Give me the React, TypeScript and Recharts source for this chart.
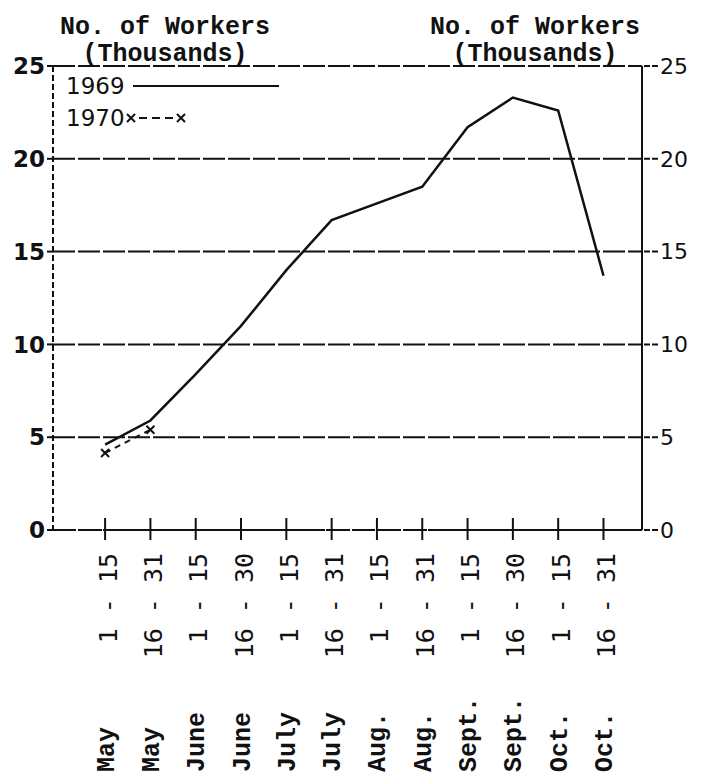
import { CartesianGrid, Legend, Line, LineChart, XAxis, YAxis } from 'recharts'

const months = ['May', 'May', 'June', 'June', 'July', 'July', 'Aug.', 'Aug.', 'Sept.', 'Sept.', 'Oct.', 'Oct.']
const dayRanges = ['1 - 15', '16 - 31', '1 - 15', '16 - 30', '1 - 15', '16 - 31', '1 - 15', '16 - 31', '1 - 15', '16 - 30', '1 - 15', '16 - 31']
const workers1969 = [4.6, 5.9, 8.4, 11.0, 14.0, 16.7, 17.6, 18.5, 21.7, 23.3, 22.6, 13.7]
const workers1970 = [4.15, 5.4, null, null, null, null, null, null, null, null, null, null]
const yTicks = [0, 5, 10, 15, 20, 25]

const data = months.map((m, i) => ({
  idx: i,
  month: m,
  days: dayRanges[i],
  w1969: workers1969[i],
  w1970: workers1970[i],
}))

const INK = '#111'
const mono = '"Liberation Mono", "DejaVu Sans Mono", monospace'
const sans = '"DejaVu Sans", sans-serif'

function PeriodTick({ x, y, payload }: any) {
  const i = payload.value
  return (
    <g>
      <line x1={x} x2={x} y1={y - 12} y2={y + 10} stroke={INK} strokeWidth={2} />
      <text
        transform={`translate(${x + 3},${y + 23}) rotate(-90)`}
        textAnchor="end"
        dominantBaseline="central"
        fontFamily='"DejaVu Sans Mono", monospace'
        fontSize={25}
        fill={INK}
      >
        {dayRanges[i]}
      </text>
      <text
        transform={`translate(${x + 2},${y + 242}) rotate(-90)`}
        textAnchor="start"
        dominantBaseline="central"
        fontFamily={mono}
        fontWeight="bold"
        fontSize={25}
        fill={INK}
      >
        {months[i]}
      </text>
    </g>
  )
}

function XMark({ cx, cy, payload }: any) {
  if (payload.w1970 == null) return null
  return (
    <g stroke={INK} strokeWidth={2}>
      <line x1={cx - 4} y1={cy - 4} x2={cx + 4} y2={cy + 4} />
      <line x1={cx - 4} y1={cy + 4} x2={cx + 4} y2={cy - 4} />
    </g>
  )
}

function LegendBox({ payload }: any) {
  return (
    <div style={{ fontFamily: sans, fontSize: 23, color: INK, lineHeight: '32px' }}>
      {(payload || []).map((p: any) => (
        <div key={p.value} style={{ display: 'flex', alignItems: 'center' }}>
          <span>{p.value}</span>
          {p.value === '1969' ? (
            <svg width={150} height={10} style={{ marginLeft: 8 }}>
              <line x1={0} x2={146} y1={5} y2={5} stroke={INK} strokeWidth={2} />
            </svg>
          ) : (
            <svg width={70} height={16}>
              <g stroke={INK} strokeWidth={2}>
                <line x1={2} y1={4} x2={10} y2={12} />
                <line x1={2} y1={12} x2={10} y2={4} />
                <line x1={14} y1={8} x2={48} y2={8} strokeDasharray="8 5" />
                <line x1={52} y1={4} x2={60} y2={12} />
                <line x1={52} y1={12} x2={60} y2={4} />
              </g>
            </svg>
          )}
        </div>
      ))}
    </div>
  )
}

const titleStyle = {
  position: 'absolute' as const,
  width: 260,
  textAlign: 'center' as const,
  fontFamily: mono,
  fontWeight: 'bold' as const,
  fontSize: 25,
  lineHeight: '27px',
  color: INK,
}

export default function App() {
  return (
    <div style={{ position: 'absolute', left: 0, top: 0, width: 706, height: 775, background: '#fff' }}>
      <div style={{ ...titleStyle, left: 35, top: 14 }}>
        No. of Workers
        <br />
        (Thousands)
      </div>
      <div style={{ ...titleStyle, left: 405, top: 14 }}>
        No. of Workers
        <br />
        (Thousands)
      </div>
      <LineChart width={706} height={775} data={data} margin={{ top: 66, right: 0, left: 0, bottom: 0 }}>
        <CartesianGrid
          yAxisId="left"
          vertical={false}
          stroke={INK}
          strokeWidth={2}
          strokeDasharray="22 3"
        />
        <XAxis
          dataKey="idx"
          type="number"
          domain={[-1.15, 11.85]}
          ticks={data.map((d) => d.idx)}
          interval={0}
          allowDataOverflow
          height={245}
          tickSize={0}
          tickMargin={0}
          tickLine={false}
          axisLine={{ stroke: INK, strokeWidth: 2, strokeDasharray: '10 3' }}
          tick={<PeriodTick />}
        />
        <YAxis
          yAxisId="left"
          domain={[0, 25]}
          ticks={yTicks}
          interval={0}
          width={53}
          tickSize={6}
          tickMargin={2}
          axisLine={{ stroke: INK, strokeWidth: 2, strokeDasharray: '6 3' }}
          tickLine={{ stroke: INK, strokeWidth: 2 }}
          tick={{ fill: INK, fontSize: 23, fontWeight: 'bold', fontFamily: sans }}
        />
        <YAxis
          yAxisId="right"
          orientation="right"
          domain={[0, 25]}
          ticks={yTicks}
          interval={0}
          allowDataOverflow
          width={64}
          tickSize={16}
          tickMargin={2}
          axisLine={{ stroke: INK, strokeWidth: 2 }}
          tickLine={{ stroke: INK, strokeWidth: 2, strokeDasharray: '6 2' }}
          tick={{ fill: INK, fontSize: 22, fontFamily: sans }}
        />
        <Legend
          layout="vertical"
          align="center"
          verticalAlign="middle"
          wrapperStyle={{ top: 70, left: 66, width: 260 }}
          content={<LegendBox />}
        />
        <Line
          yAxisId="left"
          name="1969"
          type="linear"
          dataKey="w1969"
          stroke={INK}
          strokeWidth={2.5}
          dot={false}
          activeDot={false}
          isAnimationActive={false}
        />
        <Line
          yAxisId="right"
          name="1970"
          type="linear"
          dataKey="w1970"
          stroke={INK}
          strokeWidth={2}
          strokeDasharray="6 5"
          dot={<XMark />}
          activeDot={false}
          isAnimationActive={false}
        />
      </LineChart>
    </div>
  )
}
